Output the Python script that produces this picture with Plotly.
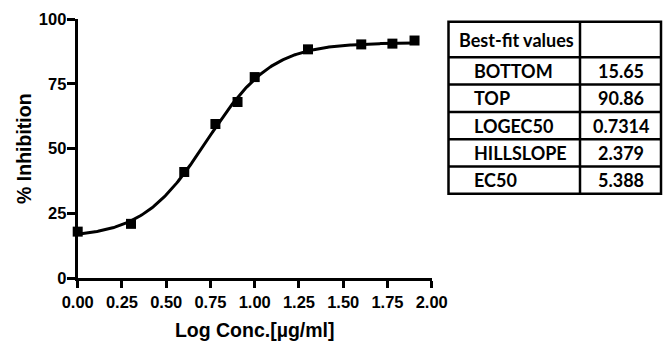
import numpy as np
import plotly.graph_objects as go

# ---- data ----
log_conc = [0.0, 0.301, 0.602, 0.778, 0.903, 1.0, 1.301, 1.602, 1.778, 1.903]
inhibition = [18.0, 21.0, 41.0, 59.5, 68.0, 77.6, 88.3, 90.2, 90.5, 91.7]

table_header = "Best-fit values"
param_names = ["BOTTOM", "TOP", "LOGEC50", "HILLSLOPE", "EC50"]
param_values = ["15.65", "90.86", "0.7314", "2.379", "5.388"]
bottom, top, logec50, hill = 15.65, 90.86, 0.7314, 2.379

x_ticks = [0, 0.25, 0.5, 0.75, 1.0, 1.25, 1.5, 1.75, 2.0]
x_labels = ["0.00", "0.25", "0.50", "0.75", "1.00", "1.25", "1.50", "1.75", "2.00"]
y_ticks = [0, 25, 50, 75, 100]
y_labels = ["0", "25", "50", "75", "100"]

# fitted 4PL curve from best-fit parameters
xf = np.linspace(0, max(log_conc), 300)
yf = bottom + (top - bottom) / (1 + 10 ** ((logec50 - xf) * hill))

W, H = 663, 343
fig = go.Figure()
fig.add_trace(go.Scatter(x=xf, y=yf, mode="lines",
                         line=dict(color="black", width=3), cliponaxis=False,
                         showlegend=False, hoverinfo="skip"))
fig.add_trace(go.Scatter(x=log_conc, y=inhibition, mode="markers",
                         marker=dict(symbol="square", size=10, color="black"),
                         cliponaxis=False, showlegend=False))

# ---- best-fit table drawn with shapes + annotations (paper == pixels, margins 0) ----
def px(x):
    return x / W

def py(y):
    return 1 - y / H

t_left, t_mid, t_right = 448.5, 580, 661
t_top, head_h, row_h = 21.7, 35.6, 27.3
n = len(param_names)
t_bottom = t_top + head_h + n * row_h
line = dict(color="black", width=2.5)
shapes = [dict(type="rect", xref="paper", yref="paper",
               x0=px(t_left), x1=px(t_right), y0=py(t_bottom), y1=py(t_top),
               line=line, fillcolor="white", layer="below"),
          dict(type="line", xref="paper", yref="paper",
               x0=px(t_mid), x1=px(t_mid), y0=py(t_bottom), y1=py(t_top), line=line)]
row_edges = [t_top + head_h + i * row_h for i in range(n)]
for ye in row_edges:
    shapes.append(dict(type="line", xref="paper", yref="paper",
                       x0=px(t_left), x1=px(t_right), y0=py(ye), y1=py(ye), line=line))

cell_font = dict(family="Lato, Calibri, Carlito, sans-serif", size=18, color="black")
annotations = [dict(xref="paper", yref="paper", x=px(t_left + 8), y=py(t_top + head_h / 2),
                    xanchor="left", yanchor="middle", showarrow=False,
                    text="<b>" + table_header + "</b>", font=cell_font)]
for i, (name, val) in enumerate(zip(param_names, param_values)):
    yc = t_top + head_h + (i + 0.5) * row_h
    annotations.append(dict(xref="paper", yref="paper", x=px(t_left + 23), y=py(yc),
                            xanchor="left", yanchor="middle", showarrow=False,
                            text="<b>" + name + "</b>", font=cell_font))
    annotations.append(dict(xref="paper", yref="paper", x=px((t_mid + t_right) / 2), y=py(yc),
                            xanchor="center", yanchor="middle", showarrow=False,
                            text="<b>" + val + "</b>", font=cell_font))

tick_font = dict(family="Liberation Sans, Arial, sans-serif", size=16.5, color="black",
                 weight="bold")
title_font = dict(family="Liberation Sans, Arial, sans-serif", size=19.5, color="black")

fig.update_layout(
    width=W, height=H,
    margin=dict(l=0, r=0, t=0, b=0),
    paper_bgcolor="white", plot_bgcolor="white",
    shapes=shapes, annotations=annotations,
    xaxis=dict(domain=[77.7 / W, 431.7 / W], range=[0, 2], automargin=False,
               tickvals=x_ticks, ticktext=x_labels,
               showgrid=False, zeroline=False,
               showline=True, linecolor="black", linewidth=3,
               ticks="outside", ticklen=7, tickwidth=3, tickcolor="black",
               tickfont=tick_font,
               title=dict(text="<b>Log Conc.[µg/ml]</b>", font=title_font, standoff=14),
               fixedrange=True),
    yaxis=dict(domain=[(H - 278.3) / H, (H - 19) / H], range=[0, 100], automargin=False,
               tickvals=y_ticks, ticktext=y_labels,
               showgrid=False, zeroline=False,
               showline=True, linecolor="black", linewidth=3,
               ticks="outside", ticklen=8, tickwidth=3, tickcolor="black",
               tickfont=tick_font, ticklabelstandoff=-3,
               title=dict(text="<b>% Inhibition</b>", font=title_font, standoff=3),
               fixedrange=True),
)

fig.write_html("out.html")
